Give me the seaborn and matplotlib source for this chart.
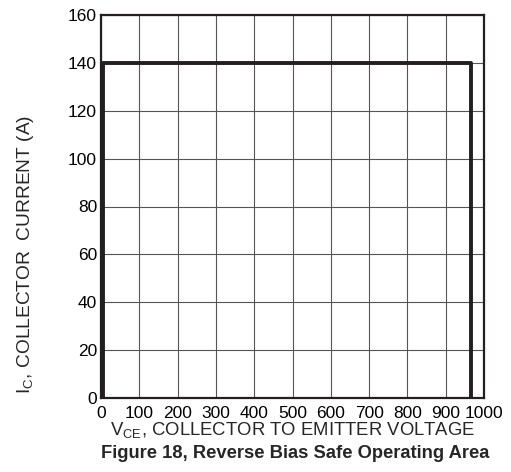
import matplotlib
matplotlib.use('Agg')
import matplotlib.pyplot as plt
import seaborn as sns
import pandas as pd

sns.set_style('white')
plt.rcParams['font.family'] = ['Liberation Sans', 'DejaVu Sans']
plt.rcParams['mathtext.fontset'] = 'custom'
plt.rcParams['mathtext.rm'] = 'Liberation Sans'

# RBSOA boundary
vce = [5, 5, 965, 965]
ic = [0, 140, 140, 0]
x_ticks = [0, 100, 200, 300, 400, 500, 600, 700, 800, 900, 1000]
y_ticks = [0, 20, 40, 60, 80, 100, 120, 140, 160]

soa = pd.DataFrame({'vce': vce, 'ic': ic})

fig = plt.figure(figsize=(5.11, 4.72), dpi=100)
ax = fig.add_axes([0.198, 0.157, 0.749, 0.811])

ax.set_xlim(0, 1000)
ax.set_ylim(0, 160)
ax.set_xticks(x_ticks)
ax.set_yticks(y_ticks)
ax.grid(True, color='#555555', lw=0.8)
ax.set_axisbelow(True)

sns.lineplot(data=soa, x='vce', y='ic', sort=False, estimator=None,
             errorbar=None, color='#231f20', lw=2.8, ax=ax, zorder=3)

for s in ax.spines.values():
    s.set_color('#231f20')
    s.set_linewidth(1.6)

ax.tick_params(length=0, labelsize=12.5, colors='black')
ax.tick_params(axis='x', pad=6)
ax.tick_params(axis='y', pad=3)
ax.set_xlabel(r'V$_{\mathregular{CE}}$, COLLECTOR TO EMITTER VOLTAGE',
              fontsize=13.3, labelpad=-1)
ax.set_ylabel('')
fig.text(0.049, 0.46, r'I$_{\mathregular{C}}$, COLLECTOR  CURRENT (A)',
         rotation=90, ha='center', va='center', fontsize=13.8)
fig.text(0.577, 0.03, 'Figure 18, Reverse Bias Safe Operating Area',
         ha='center', fontsize=13.2, fontweight='bold')

plt.savefig('out.png', dpi=100)
